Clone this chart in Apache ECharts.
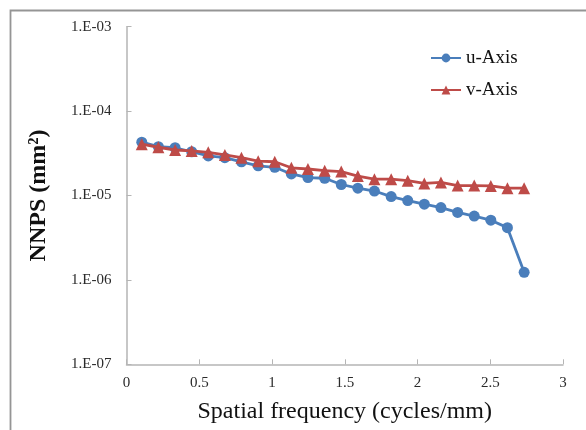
<!DOCTYPE html>
<html>
<head>
<meta charset="utf-8">
<script src="https://cdn.jsdelivr.net/npm/echarts@6/dist/echarts.min.js"></script>
<style>
html,body{margin:0;padding:0;background:#fff;}
#chart{width:586px;height:430px;}
</style>
</head>
<body>
<div id="chart"></div>
<script>
// Spatial frequency (cycles/mm)
var freq = [0.105, 0.219, 0.334, 0.448, 0.562, 0.676, 0.790, 0.905, 1.019, 1.133, 1.247, 1.362,
            1.476, 1.590, 1.704, 1.819, 1.933, 2.047, 2.161, 2.276, 2.390, 2.504, 2.618, 2.733];
// NNPS (mm^2)
var uAxis = [4.28e-5, 3.79e-5, 3.68e-5, 3.30e-5, 2.94e-5, 2.81e-5, 2.51e-5, 2.25e-5, 2.16e-5, 1.80e-5, 1.63e-5, 1.60e-5,
             1.35e-5, 1.22e-5, 1.13e-5, 9.7e-6, 8.7e-6, 7.9e-6, 7.2e-6, 6.3e-6, 5.7e-6, 5.1e-6, 4.16e-6, 1.23e-6];
var vAxis = [4.05e-5, 3.73e-5, 3.46e-5, 3.37e-5, 3.25e-5, 3.02e-5, 2.81e-5, 2.55e-5, 2.51e-5, 2.13e-5, 2.06e-5, 1.97e-5,
             1.92e-5, 1.70e-5, 1.56e-5, 1.56e-5, 1.50e-5, 1.39e-5, 1.43e-5, 1.31e-5, 1.31e-5, 1.30e-5, 1.22e-5, 1.22e-5];
var seriesNames = ['u-Axis', 'v-Axis'];
var xTicks = ['0', '0.5', '1', '1.5', '2', '2.5', '3'];
var yTickLabels = { '-7': '1.E-07', '-6': '1.E-06', '-5': '1.E-05', '-4': '1.E-04', '-3': '1.E-03' };

function pairs(xs, ys) { return xs.map(function (x, i) { return [x, ys[i]]; }); }

var serif = '"Liberation Serif", "DejaVu Serif", serif';
var chart = echarts.init(document.getElementById('chart'), null, { renderer: 'canvas' });
chart.setOption({
  animation: false,
  backgroundColor: '#ffffff',
  graphic: [{
    type: 'rect',
    shape: { x: 10.5, y: 10.5, width: 620, height: 520 },
    style: { fill: 'none', stroke: '#959595', lineWidth: 1.8 },
    silent: true
  }],
  grid: { left: 126.5, top: 26.7, right: 23, bottom: 65.7, containLabel: false },
  legend: {
    orient: 'vertical',
    left: 430,
    top: 48,
    padding: 0,
    itemWidth: 30,
    itemHeight: 11,
    itemGap: 12,
    textStyle: { fontFamily: serif, fontSize: 19, color: '#111', lineHeight: 20 },
    data: seriesNames
  },
  xAxis: {
    type: 'value',
    min: 0, max: 3, interval: 0.5,
    name: 'Spatial frequency (cycles/mm)',
    nameLocation: 'middle',
    nameGap: 35,
    nameTextStyle: { fontFamily: serif, fontSize: 24, color: '#111' },
    axisLine: { lineStyle: { color: '#b5b5b5', width: 1.5 } },
    axisTick: { show: true, inside: true, length: 5, lineStyle: { color: '#b5b5b5', width: 1 } },
    axisLabel: {
      fontFamily: serif, fontSize: 15, color: '#2a2a2a', margin: 11,
      formatter: function (v) { return xTicks[Math.round(v * 2)]; }
    },
    splitLine: { show: false }
  },
  yAxis: {
    type: 'log',
    logBase: 10,
    min: 1e-7, max: 1e-3,
    name: 'NNPS (mm²)',
    nameLocation: 'middle',
    nameGap: 76,
    nameRotate: 90,
    nameTextStyle: { fontFamily: serif, fontSize: 24, fontWeight: 'bold', color: '#111' },
    axisLine: { show: true, lineStyle: { color: '#b5b5b5', width: 1.5 } },
    axisTick: { show: true, inside: true, length: 5, lineStyle: { color: '#b5b5b5', width: 1 } },
    axisLabel: {
      fontFamily: serif, fontSize: 15, color: '#2a2a2a', margin: 15,
      formatter: function (v) { return yTickLabels[String(Math.round(Math.log10(v)))]; }
    },
    splitLine: { show: false },
    minorTick: { show: false }
  },
  series: [
    {
      name: seriesNames[0],
      type: 'line',
      data: pairs(freq, uAxis),
      symbol: 'circle',
      symbolSize: 11,
      lineStyle: { color: '#4a7ebb', width: 2.8 },
      itemStyle: { color: '#4a7ebb' },
      z: 2
    },
    {
      name: seriesNames[1],
      type: 'line',
      data: pairs(freq, vAxis),
      symbol: 'triangle',
      symbolSize: 12,
      lineStyle: { color: '#be4b48', width: 2.8 },
      itemStyle: { color: '#be4b48' },
      z: 3
    }
  ]
});
</script>
</body>
</html>
